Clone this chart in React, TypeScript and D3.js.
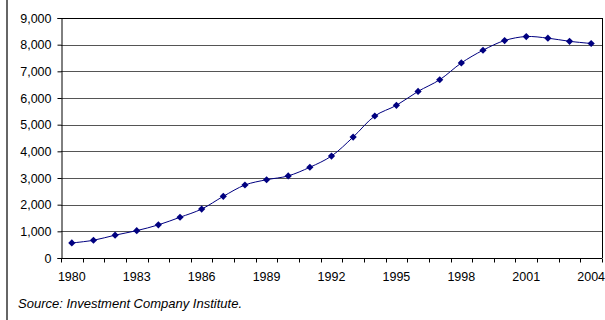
import { useEffect, useRef } from "react";
import * as d3 from "d3";

const years = d3.range(1980, 2005).map(String);
const funds = [
  564, 665, 857, 1026, 1243, 1528, 1835, 2312, 2737, 2935, 3079, 3403, 3824,
  4534, 5325, 5725, 6248, 6684, 7314, 7791, 8155, 8305, 8244, 8126, 8044,
];
const yTicks = [0, 1000, 2000, 3000, 4000, 5000, 6000, 7000, 8000, 9000];
const xLabels = ["1980", "1983", "1986", "1989", "1992", "1995", "1998", "2001", "2004"];
const source = "Source: Investment Company Institute.";

const FONT = "'Liberation Sans', Arial, sans-serif";

export default function App() {
  const ref = useRef<SVGSVGElement | null>(null);

  useEffect(() => {
    const svgEl = ref.current;
    if (!svgEl) return;
    const W = 605, H = 320;
    const m = { left: 61, right: 3, top: 18, bottom: 62 };
    const svg = d3.select(svgEl);
    svg.selectAll("*").remove();
    svg.style("font-family", FONT).style("font-size", "12.5px");

    const x = d3.scaleBand<string>().domain(years).range([m.left, W - m.right]);
    const y = d3.scaleLinear().domain([0, 9000]).range([H - m.bottom, m.top]);

    // outer frame, only the left edge shows
    svg.append("line")
      .attr("x1", 7).attr("x2", 7).attr("y1", 0).attr("y2", H)
      .attr("stroke", "#333").attr("stroke-width", 1.5);

    // gridlines
    svg.append("g")
      .selectAll("line")
      .data(yTicks.filter((t) => t > 0))
      .join("line")
      .attr("x1", m.left).attr("x2", W - m.right)
      .attr("y1", (d) => Math.round(y(d)) + 0.5).attr("y2", (d) => Math.round(y(d)) + 0.5)
      .attr("stroke", (d) => (d === 9000 ? "#000" : "#555"))
      .attr("stroke-width", 1);

    // right border of plot
    svg.append("line")
      .attr("x1", W - m.right + 0.5).attr("x2", W - m.right + 0.5)
      .attr("y1", y(9000)).attr("y2", y(0))
      .attr("stroke", "#000");

    // y axis
    const yAxis = svg.append("g")
      .attr("transform", `translate(${m.left + 0.5},0)`)
      .call(d3.axisLeft(y).tickValues(yTicks).tickSize(4).tickPadding(6).tickFormat(d3.format(",")));
    yAxis.select(".domain").attr("stroke", "#000");
    yAxis.selectAll("text").attr("fill", "#000").style("font-size", "12.5px").style("font-family", FONT);
    yAxis.selectAll(".tick line").attr("stroke", "#000");

    // x axis: ticks on category boundaries
    const xg = svg.append("g").attr("transform", `translate(0,${Math.round(y(0)) + 0.5})`);
    xg.append("line").attr("x1", m.left).attr("x2", W - m.right).attr("stroke", "#000");
    const bounds = years.map((d) => x(d)!).concat([W - m.right]);
    xg.selectAll("line.tk")
      .data(bounds)
      .join("line")
      .attr("class", "tk")
      .attr("x1", (d) => Math.round(d) + 0.5).attr("x2", (d) => Math.round(d) + 0.5)
      .attr("y1", 0).attr("y2", 4)
      .attr("stroke", "#000");
    xg.selectAll("text")
      .data(xLabels)
      .join("text")
      .attr("x", (d) => x(d)! + x.bandwidth() / 2)
      .attr("y", 22.5)
      .attr("text-anchor", "middle")
      .attr("fill", "#000")
      .text((d) => d);

    const pts: [number, number][] = years.map((yr, i) => [x(yr)! + x.bandwidth() / 2, y(funds[i])]);

    svg.append("path")
      .attr("d", d3.line().curve(d3.curveCatmullRom.alpha(0.5))(pts))
      .attr("fill", "none")
      .attr("stroke", "#000080")
      .attr("stroke-width", 1);

    // square diamonds like Excel's marker
    const s = 3.6;
    svg.append("g")
      .selectAll("path")
      .data(pts)
      .join("path")
      .attr("transform", (d) => `translate(${d[0]},${d[1]})`)
      .attr("d", `M0,${-s}L${s},0L0,${s}L${-s},0Z`)
      .attr("fill", "#000080");

    svg.append("text")
      .attr("x", 18).attr("y", 308)
      .style("font-style", "italic")
      .style("font-size", "13px")
      .attr("fill", "#000")
      .text(source);
  }, []);

  return <svg ref={ref} width={605} height={320} style={{ position: "absolute", left: 0, top: 0, background: "#fff" }} />;
}
